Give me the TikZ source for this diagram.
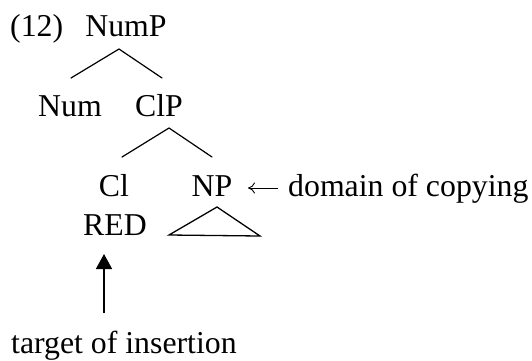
\documentclass[tikz,border=0pt]{standalone}
\usepackage{fontspec}
\setmainfont{Liberation Serif}
\usetikzlibrary{arrows.meta}
\tikzset{
  lbl/.style={inner sep=0pt, font=\fontsize{31.8}{38}\selectfont},
  branch/.style={line width=1.2pt, line cap=round},
}
\begin{document}
\begin{tikzpicture}[x=1pt,y=-1pt]
\useasboundingbox (0,0) rectangle (532,360);
% labels
\node[lbl, anchor=base west] (ex) at (10,36) {(12)};
\node[lbl, anchor=base] (nump) at (126,36) {NumP};
\node[lbl, anchor=base] (num) at (70,116) {Num};
\node[lbl, anchor=base] (clp) at (159,116) {ClP};
\node[lbl, anchor=base] (cl) at (114,196) {Cl};
\node[lbl, anchor=base] (np) at (212,196) {NP};
\node[lbl, anchor=base] (red) at (115,235) {RED};
\node[lbl, anchor=base west] (dom) at (288,196) {domain of copying};
\node[lbl, anchor=base west] (target) at (11,353) {target of insertion};
% branch points
\coordinate (numpB) at (119,49);
\coordinate (numT) at (71,78);
\coordinate (clpT) at (162,78);
\coordinate (clpB) at (169,128);
\coordinate (clT) at (122,157);
\coordinate (npT) at (212,157);
\coordinate (triA) at (217,207);
\coordinate (triL) at (169,235);
\coordinate (triR) at (260,236);
\coordinate (arrS) at (104,313);
\coordinate (arrE) at (104,254);
\coordinate (domA) at (278,188);
\coordinate (domB) at (248,188);
% tree
\draw[branch] (numT) -- (numpB) -- (clpT);
\draw[branch] (clT) -- (clpB) -- (npT);
\draw[line width=1.3pt, line join=miter] (triA) -- (triL) -- (triR) -- cycle;
% arrows
\draw[line width=0.9pt, -{To[length=7pt,width=11pt]}] (domA) -- (domB);
\draw[line width=1.6pt, -{Triangle[length=15pt,width=16pt]}] (arrS) -- (arrE);
\end{tikzpicture}
\end{document}
